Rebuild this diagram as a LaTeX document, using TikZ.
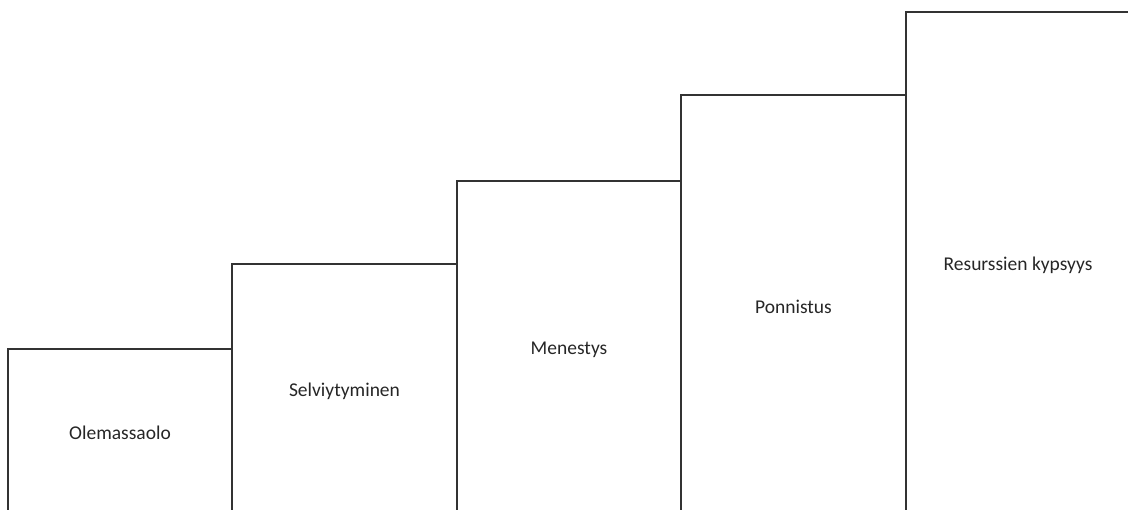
\documentclass[tikz,border=0pt]{standalone}
\usepackage{fontspec}
\setmainfont{Carlito}
\begin{document}
\begin{tikzpicture}[x=1pt,y=-1pt,
  stage/.style={draw=black!80, line width=1.3pt, inner sep=0pt, anchor=center,
    font=\fontsize{19.5}{22}\selectfont, text=black!85}]
\useasboundingbox (0,0) rectangle (1128,510);
\clip (0,0) rectangle (1128,510);
\node[stage, minimum width=224pt, minimum height=168pt] (s1) at (120,433) {Olemassaolo};
\node[stage, minimum width=225pt, minimum height=254pt] (s2) at (344.5,391) {Selviytyminen};
\node[stage, minimum width=224pt, minimum height=338pt] (s3) at (569,350) {Menestys};
\node[stage, minimum width=225pt, minimum height=424pt] (s4) at (793.5,307) {Ponnistus};
\node[stage, minimum width=224pt, minimum height=506pt] (s5) at (1018,265) {Resurssien kypsyys};
\end{tikzpicture}
\end{document}
